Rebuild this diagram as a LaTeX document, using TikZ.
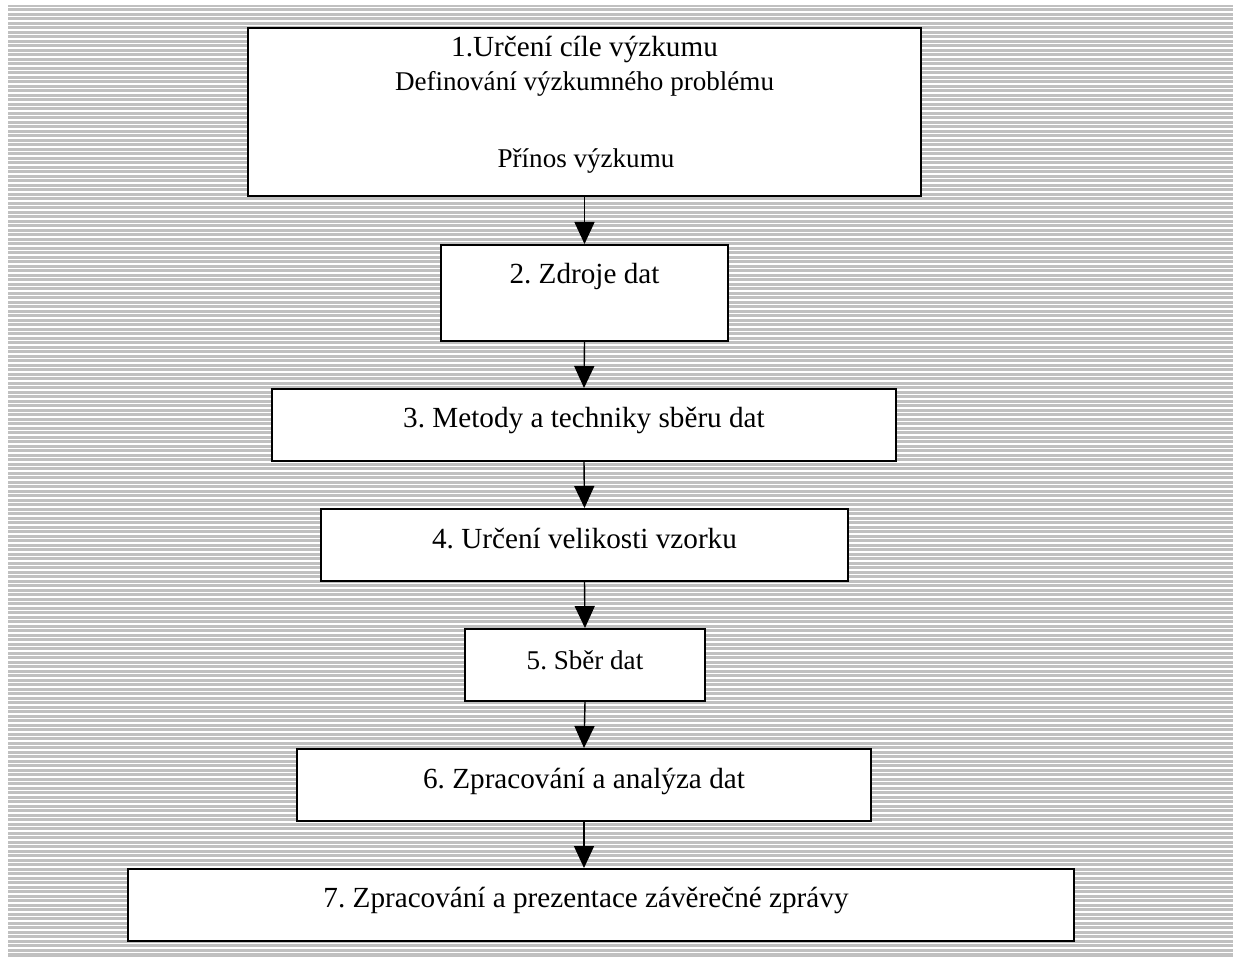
\documentclass[tikz,border=0pt]{standalone}
\usepackage{fontspec}
\setmainfont{Liberation Serif}
\usetikzlibrary{arrows.meta}
\definecolor{bg}{HTML}{C0C0C0}
\frenchspacing
\begin{document}
\begin{tikzpicture}[x=0.01cm,y=-0.01cm,
  stepbox/.style={draw=black, fill=white, line width=0.55pt, inner sep=0pt},
  lbl/.style={font=\fontsize{8.3pt}{10pt}\selectfont, inner sep=0pt, anchor=base},
  lbls/.style={lbl, font=\fontsize{7.7pt}{9pt}\selectfont},
  conn/.style={line width=0.4pt, -{Triangle[width=0.2cm,length=0.22cm]}}]
\useasboundingbox (0,0) rectangle (1239,957);
\fill[bg] (8,5) rectangle (1233,957);
\foreach \i in {0,...,210} \draw[white, line width=0.3pt] (8,{7.5+4.5*\i}) -- (1233,{7.5+4.5*\i});

\node[stepbox, minimum width=6.73cm, minimum height=1.68cm] (b1) at (584.5,112) {};
\node[stepbox, minimum width=2.87cm, minimum height=0.96cm] (b2) at (584.5,293) {};
\node[stepbox, minimum width=6.24cm, minimum height=0.72cm] (b3) at (584,425) {};
\node[stepbox, minimum width=5.27cm, minimum height=0.72cm] (b4) at (584.5,545) {};
\node[stepbox, minimum width=2.40cm, minimum height=0.72cm] (b5) at (585,665) {};
\node[stepbox, minimum width=5.74cm, minimum height=0.72cm] (b6) at (584,785) {};
\node[stepbox, minimum width=9.46cm, minimum height=0.72cm] (b7) at (601,905) {};

\node[lbl] (t1a) at (584.5,56) {1.Určení cíle výzkumu};
\node[lbls] (t1b) at (584.5,90) {Definování výzkumného problému};
\node[lbls] (t1c) at (586,167) {Přínos výzkumu};
\node[lbl] (t2) at (584.5,283) {2. Zdroje dat};
\node[lbl] (t3) at (584,427) {3. Metody a techniky sběru dat};
\node[lbl] (t4) at (584.5,548) {4. Určení velikosti vzorku};
\node[lbls] (t5) at (585,669) {5. Sběr dat};
\node[lbl] (t6) at (584,788) {6. Zpracování a analýza dat};
\node[lbl] (t7) at (586,907) {7. Zpracování a prezentace závěrečné zprávy};

\draw[conn] (b1.south) -- (b2.north);
\draw[conn] (b2.south) -- (b3.north);
\draw[conn] (b3.south) -- (b4.north);
\draw[conn] (b4.south) -- (b5.north);
\draw[conn] (b5.south) -- (b6.north);
\draw[conn] (b6.south) -- (b6.south |- b7.north);
\end{tikzpicture}
\end{document}
